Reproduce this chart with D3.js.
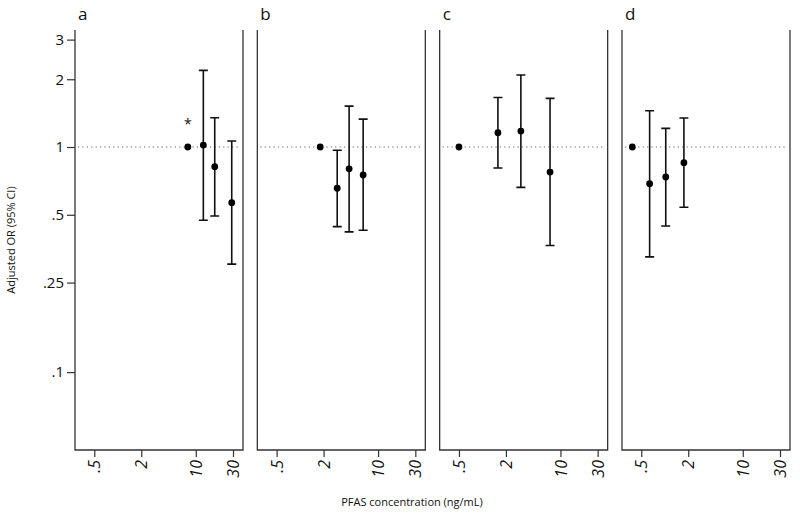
<!DOCTYPE html>
<html>
<head>
<meta charset="utf-8">
<script src="https://cdn.jsdelivr.net/npm/d3@7"></script>
<style>
  body { margin: 0; background: #fff; }
  text { font-family: "Open Sans", "Liberation Sans", sans-serif; fill: #111; }
</style>
</head>
<body>
<script>
// panels and values
const panelLabels = ['a', 'b', 'c', 'd'];
const conc = [
  [7.9, 12.5, 17.5, 28.9],
  [1.81, 2.99, 4.25, 6.43],
  [0.5, 1.58, 3.11, 7.36],
  [0.384, 0.64, 1.03, 1.76]
];
const or = [
  [1, 1.02, 0.818, 0.566],
  [1, 0.656, 0.80, 0.751],
  [1, 1.157, 1.177, 0.774],
  [1, 0.687, 0.736, 0.852]
];
const lower = [
  [null, 0.473, 0.494, 0.302],
  [null, 0.443, 0.42, 0.427],
  [null, 0.807, 0.662, 0.365],
  [null, 0.325, 0.446, 0.54]
];
const upper = [
  [null, 2.19, 1.35, 1.063],
  [null, 0.967, 1.52, 1.33],
  [null, 1.66, 2.09, 1.645],
  [null, 1.45, 1.21, 1.345]
];
const xTicks = [0.5, 2, 10, 30];
const xTickLabels = ['.5', '2', '10', '30'];
const yTicks = [0.1, 0.25, 0.5, 1, 2, 3];
const yTickLabels = ['.1', '.25', '.5', '1', '2', '3'];

const width = 800;
const height = 517;
const plotTop = 30;
const plotBottom = 450;
const panelW = 168;
const firstLeft = 75;
const step = 182.33;

const svg = d3.select('body').append('svg')
  .attr('width', width)
  .attr('height', height)
;

const y = d3.scaleLog()
  .domain([0.0451, 3.31])
  .range([plotBottom, plotTop])
;

// y axis (only on the first panel)
const yAxis = d3.axisLeft(y)
  .tickValues(yTicks)
  .tickFormat((d, i) => yTickLabels[i])
  .tickSize(8)
  .tickPadding(3)
;
const ya = svg.append('g')
  .attr('transform', `translate(${firstLeft},0)`)
  .call(yAxis)
;
ya.select('.domain').remove();
ya.selectAll('line').attr('stroke', '#333').attr('stroke-width', 1.2);
ya.selectAll('text').style('font-size', '15px').attr('fill', '#111');

panelLabels.forEach((label, p) => {
  const left = firstLeft + p * step;
  const x = d3.scaleLog()
    .domain([0.283, 40.3])
    .range([left, left + panelW])
  ;
  const g = svg.append('g');

  // frame: left, right, bottom
  g.append('path')
    .attr('d', `M${left},${plotTop}V${plotBottom}H${left + panelW}V${plotTop}`)
    .attr('fill', 'none')
    .attr('stroke', '#333')
    .attr('stroke-width', 1.3)
  ;

  const xa = g.append('g')
    .attr('transform', `translate(0,${plotBottom})`)
    .call(d3.axisBottom(x)
      .tickValues(xTicks)
      .tickFormat((d, i) => xTickLabels[i])
      .tickSize(7)
      .tickPadding(4))
  ;
  xa.select('.domain').remove();
  xa.selectAll('line').attr('stroke', '#333').attr('stroke-width', 1.2);
  xa.selectAll('text')
    .style('font-size', '16px')
    .style('font-style', 'italic')
    .attr('text-anchor', 'end')
    .attr('dy', '0.35em')
    .attr('transform', 'translate(0,10) rotate(-90)')
    .attr('x', 0)
    .attr('y', 0)
  ;

  // reference line at OR = 1
  g.append('line')
    .attr('x1', left + 3)
    .attr('x2', left + panelW - 3)
    .attr('y1', y(1))
    .attr('y2', y(1))
    .attr('stroke', '#666')
    .attr('stroke-width', 1.2)
    .attr('stroke-dasharray', '1.2,3.2')
  ;

  g.append('text')
    .attr('x', left + 3)
    .attr('y', 20)
    .style('font-size', '17px')
    .text(label)
  ;

  const rows = conc[p].map((c, i) => ({
    c, or: or[p][i], lo: lower[p][i], hi: upper[p][i]
  }));
  const bars = rows.filter(d => d.lo !== null);

  g.selectAll('.ci')
    .data(bars)
    .enter().append('path')
    .attr('class', 'ci')
    .attr('d', d => {
      const cx = x(d.c);
      return `M${cx - 4.5},${y(d.hi)}H${cx + 4.5}M${cx},${y(d.hi)}V${y(d.lo)}M${cx - 4.5},${y(d.lo)}H${cx + 4.5}`;
    })
    .attr('fill', 'none')
    .attr('stroke', '#111')
    .attr('stroke-width', 1.6)
  ;

  g.selectAll('.pt')
    .data(rows)
    .enter().append('circle')
    .attr('class', 'pt')
    .attr('cx', d => x(d.c))
    .attr('cy', d => y(d.or))
    .attr('r', 3.4)
    .attr('fill', '#000')
  ;

  if (p === 0) {
    g.append('text')
      .attr('x', x(conc[0][0]))
      .attr('y', 129)
      .attr('text-anchor', 'middle')
      .style('font-size', '14px')
      .text('*')
    ;
  }
});

svg.append('text')
  .attr('transform', `translate(15,${(plotTop + plotBottom) / 2}) rotate(-90)`)
  .attr('text-anchor', 'middle')
  .style('font-size', '11px')
  .text('Adjusted OR (95% CI)')
;

svg.append('text')
  .attr('x', 412)
  .attr('y', 506)
  .attr('text-anchor', 'middle')
  .style('font-size', '11px')
  .text('PFAS concentration (ng/mL)')
;
</script>
</body>
</html>
